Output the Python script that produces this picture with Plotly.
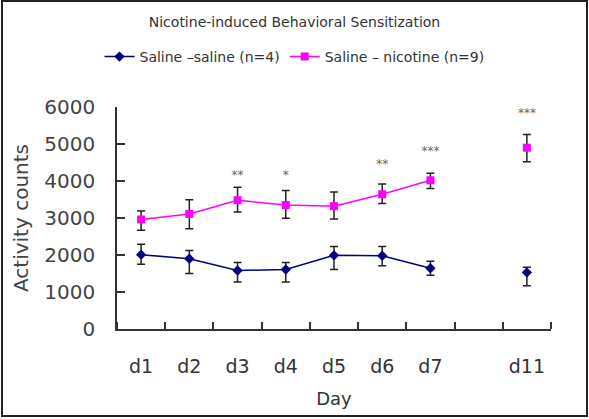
import plotly.graph_objects as go

days = ["d1", "d2", "d3", "d4", "d5", "d6", "d7", "", "d11"]

saline_mean = [2010, 1900, 1580, 1610, 1990, 1980, 1640, None, 1530]
saline_plus = [280, 220, 220, 190, 240, 250, 190, None, 140]
saline_minus = [260, 400, 310, 340, 380, 270, 190, None, 360]

nicotine_mean = [2960, 3110, 3480, 3350, 3320, 3640, 4020, None, 4900]
nicotine_plus = [230, 380, 350, 390, 380, 280, 190, None, 360]
nicotine_minus = [290, 400, 320, 360, 350, 250, 220, None, 380]

sig_labels = ["", "", "**", "*", "", "**", "***", "", "***"]
sig_y = [None, None, 4130, 4130, None, 4420, 4780, None, 5800]

xpos = [i + 0.5 for i in range(len(days))]

W, H = 589, 419
ML, MR, MT, MB = 117, 38, 107, 90
FONT = "DejaVu Sans"
TXT = "#333333"

fig = go.Figure()
fig.add_trace(go.Scatter(
    x=xpos, y=saline_mean, name="Saline \u2013saline (n=4)",
    mode="lines+markers",
    line=dict(color="#000080", width=1.5),
    marker=dict(symbol="diamond", size=8, color="#000080"),
    error_y=dict(type="data", symmetric=False, array=saline_plus, arrayminus=saline_minus,
                 color="#222222", thickness=1.5, width=4),
    connectgaps=False,
))
fig.add_trace(go.Scatter(
    x=xpos, y=nicotine_mean, name="Saline \u2013 nicotine (n=9)",
    mode="lines+markers",
    line=dict(color="#FF00FF", width=1.5),
    marker=dict(symbol="square", size=8, color="#FF00FF"),
    error_y=dict(type="data", symmetric=False, array=nicotine_plus, arrayminus=nicotine_minus,
                 color="#222222", thickness=1.5, width=4),
    connectgaps=False,
))
fig.add_trace(go.Scatter(
    x=xpos, y=sig_y, text=sig_labels, mode="text", showlegend=False,
    textfont=dict(family=FONT, size=12, color="#666666"),
    textposition="middle center", hoverinfo="skip",
))

pw = W - ML - MR
ph = H - MT - MB
fig.add_shape(type="rect", xref="paper", yref="paper",
              x0=(2 - ML) / pw, x1=(W - 2 - ML) / pw,
              y0=-(H - 3 - MT - ph) / ph, y1=(MT - 1) / ph + 1,
              line=dict(color="#222222", width=2), layer="below")

fig.update_layout(
    width=W, height=H,
    margin=dict(l=ML, r=MR, t=MT, b=MB),
    paper_bgcolor="white", plot_bgcolor="white",
    font=dict(family=FONT, color=TXT),
    title=dict(text="Nicotine-induced Behavioral Sensitization",
               x=0.5, xref="container", xanchor="center",
               y=1 - 22 / H, yref="container", yanchor="middle",
               font=dict(size=14, color=TXT)),
    legend=dict(orientation="h", x=0.5, xref="container", xanchor="center",
                y=1 - 57 / H, yref="container", yanchor="middle",
                font=dict(size=14, color=TXT), itemwidth=30,
                bgcolor="rgba(0,0,0,0)"),
    showlegend=True,
)
fig.update_xaxes(
    range=[0, len(days)], tickmode="array", tickvals=xpos, ticktext=days,
    ticks="", showgrid=False, zeroline=False,
    showline=True, linecolor="#333333", linewidth=1.5,
    tickfont=dict(size=19, color=TXT), ticklabelstandoff=19,
    minor=dict(tickmode="linear", tick0=0, dtick=1, ticks="inside", ticklen=7,
               tickcolor="#333333", tickwidth=1.5, showgrid=False),
    title=dict(text="Day", font=dict(size=18, color=TXT), standoff=17),
)
fig.update_yaxes(
    range=[0, 6000], tickmode="linear", tick0=0, dtick=1000,
    ticks="inside", ticklen=8, tickcolor="#333333", tickwidth=1.5,
    showgrid=False, zeroline=False,
    showline=True, linecolor="#333333", linewidth=1.5,
    tickfont=dict(size=20, color="#444444"), ticklabelstandoff=16,
    title=dict(text="Activity counts", font=dict(size=20, color="#444444"), standoff=10),
)

fig.write_html("out.html")
